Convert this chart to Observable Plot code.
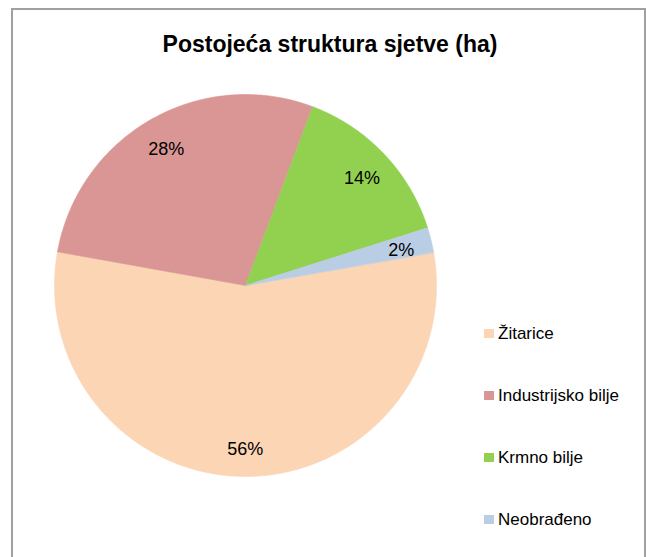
<!DOCTYPE html>
<html>
<head>
<meta charset="utf-8">
<script src="https://cdn.jsdelivr.net/npm/d3@7"></script>
<script src="https://cdn.jsdelivr.net/npm/@observablehq/plot@0.6"></script>
<style>
  html, body { margin: 0; padding: 0; background: #fff; }
  body { width: 646px; height: 557px; overflow: hidden; position: relative;
         font-family: "Liberation Sans", Arial, sans-serif; }
  #frame { position: absolute; left: 11px; top: 8px; width: 631px; height: 620px;
           border: 2px solid #a0a0a0; box-sizing: content-box; }
  #chart { position: absolute; left: 0; top: 0; }
  #title { position: absolute; left: 0; width: 660px; top: 33px; text-align: center;
           font-size: 23px; line-height: 23px; font-weight: bold; color: #000; white-space: nowrap; }
  .sw { position: absolute; width: 10px; height: 9px; }
  .lt { position: absolute; font-size: 17px; line-height: 17px; color: #000; white-space: nowrap; }
</style>
</head>
<body>
<div id="frame"></div>
<div id="chart"></div>
<div id="title">Postojeća struktura sjetve (ha)</div>
<div id="legend"></div>
<script>
// ---- data ----
const categories = ["Žitarice", "Industrijsko bilje", "Krmno bilje", "Neobrađeno"];
const shares = [55.6, 27.9, 14.4, 2.1];
const labels = ["56%", "28%", "14%", "2%"];
const colors = ["#FCD5B5", "#D99694", "#92D050", "#B9CDE5"];

// ---- layout ----
const W = 646, H = 557, cx = 245, cy = 285, R = 191;
const startAngle = 80; // degrees, clockwise from 12 o'clock
const labelRadius = 0.84;

const total = d3.sum(shares);
const slices = [];
let a = startAngle;
shares.forEach((v, i) => {
  const a0 = a, a1 = a + v / total * 360;
  slices.push({name: categories[i], label: labels[i], a0, a1});
  a = a1;
});

const rad = d => d * Math.PI / 180;
const pts = [];
for (const s of slices) {
  pts.push({name: s.name, x: 0, y: 0});
  const n = Math.max(2, Math.ceil((s.a1 - s.a0) / 0.5));
  for (let k = 0; k <= n; k++) {
    const t = rad(s.a0 + (s.a1 - s.a0) * k / n);
    pts.push({name: s.name, x: Math.sin(t), y: Math.cos(t)});
  }
}
const labelRows = slices.map(s => {
  const m = rad((s.a0 + s.a1) / 2);
  return {text: s.label, x: labelRadius * Math.sin(m), y: labelRadius * Math.cos(m)};
});

const chart = Plot.plot({
  width: W, height: H, margin: 0,
  style: {background: "transparent", fontFamily: "'Liberation Sans', Arial, sans-serif"},
  x: {domain: [(0 - cx) / R, (W - cx) / R], range: [0, W], axis: null},
  y: {domain: [(cy - H) / R, cy / R], range: [H, 0], axis: null},
  color: {domain: categories, range: colors},
  marks: [
    Plot.line(pts, {x: "x", y: "y", z: "name", fill: "name", stroke: "name", strokeWidth: 0.6, curve: "linear-closed"}),
    Plot.text(labelRows, {x: "x", y: "y", text: "text", fontSize: 18, fill: "#000", dy: 3})
  ]
});
document.getElementById("chart").appendChild(chart);

// ---- legend ----
const legend = document.getElementById("legend");
categories.forEach((c, i) => {
  const sw = document.createElement("div");
  sw.className = "sw";
  sw.style.left = "484px";
  sw.style.top = (329 + 62 * i) + "px";
  sw.style.background = colors[i];
  legend.appendChild(sw);
  const t = document.createElement("div");
  t.className = "lt";
  t.style.left = "498px";
  t.style.top = (324.6 + 62 * i) + "px";
  t.textContent = c;
  legend.appendChild(t);
});
</script>
</body>
</html>
